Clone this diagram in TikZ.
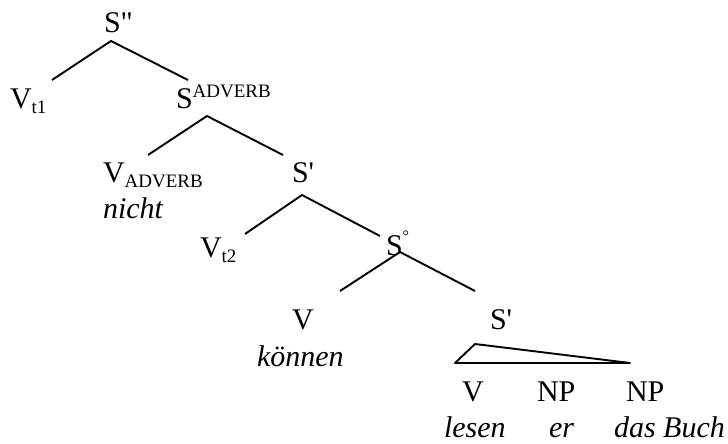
\documentclass[tikz,border=0pt]{standalone}
\usepackage{fontspec}
\setmainfont{Liberation Serif}[Ligatures=TeXOff]
% lowered and raised indices on category labels
\newcommand{\lo}[1]{\raisebox{-5.5pt}{\fontsize{19}{19}\selectfont #1}}
\newcommand{\hi}[1]{\raisebox{10.5pt}{\fontsize{19}{19}\selectfont #1}}
\newcommand{\ring}{\raisebox{13.5pt}{\fontsize{16}{16}\selectfont °}}
\begin{document}
\begin{tikzpicture}[x=1pt,y=-1pt,
  cat/.style={anchor=base west,inner sep=0pt,outer sep=0pt,font=\fontsize{30}{34}\selectfont},
  word/.style={cat,font=\fontsize{30}{34}\selectfont\itshape},
  branch/.style={line width=1.9pt,line cap=butt},
  roof/.style={line width=1.9pt,line join=round}]
\useasboundingbox (0,0) rectangle (728,444);

% category labels
\node[cat] (Spp)  at (104,33)  {S"};
\node[cat] (Vt1)  at (10,108)  {V\lo{t1}};
\node[cat] (Sadv) at (176,108) {S\hi{ADVERB}};
\node[cat] (Vadv) at (103,182) {V\lo{ADVERB}};
\node[word] (nicht) at (103,218) {nicht};
\node[cat] (Sp1)  at (292,182) {S'};
\node[cat] (Vt2)  at (200,257) {V\lo{t2}};
\node[cat] (Sdeg) at (386,255) {S\ring};
\node[cat] (V1)   at (292,329) {V};
\node[word] (koennen) at (257,366) {können};
\node[cat] (Sp2)  at (490,329) {S'};
\node[cat] (V2)   at (462,401) {V};
\node[cat] (NP1)  at (537,401) {NP};
\node[cat] (NP2)  at (626,401) {NP};
\node[word] (lesen) at (444,437) {lesen};
\node[word] (er)    at (549,437) {er};
\node[word] (buch)  at (614,437) {das Buch};

% branch points
\coordinate (Spp-top) at (111,41);
\coordinate (Vt1-top) at (52,80);
\coordinate (Sadv-bot) at (188,80);
\coordinate (Sadv-top) at (207,116);
\coordinate (Vadv-top) at (148,155);
\coordinate (Sp1-bot) at (283,155);
\coordinate (Sp1-top) at (302,195);
\coordinate (Vt2-top) at (245,234);
\coordinate (Sdeg-bot) at (380,236);
\coordinate (Sdeg-top) at (400,252);
\coordinate (V1-top) at (340,291);
\coordinate (Sp2-bot) at (475,291);
\coordinate (roof-top) at (475,344);
\coordinate (roof-l) at (455,363);
\coordinate (roof-r) at (630,363);

% branches
\draw[branch] (Vt1-top) -- (Spp-top) -- (Sadv-bot);
\draw[branch] (Vadv-top) -- (Sadv-top) -- (Sp1-bot);
\draw[branch] (Vt2-top) -- (Sp1-top) -- (Sdeg-bot);
\draw[branch] (V1-top) -- (Sdeg-top) -- (Sp2-bot);
\draw[roof] (roof-l) -- (roof-top) -- (roof-r) -- cycle;
\end{tikzpicture}
\end{document}
